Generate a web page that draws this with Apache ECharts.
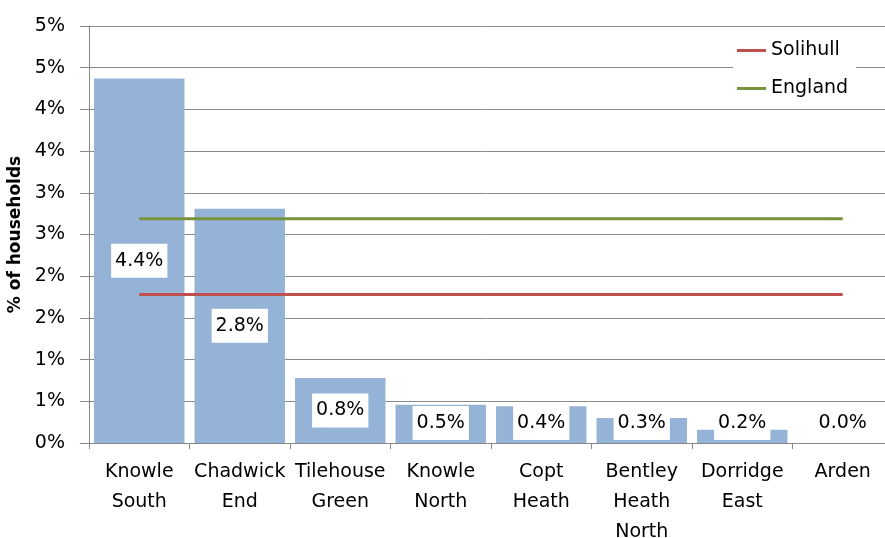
<!DOCTYPE html>
<html>
<head>
<meta charset="utf-8">
<script src="https://cdn.jsdelivr.net/npm/echarts@6/dist/echarts.min.js"></script>
<style>html,body{margin:0;padding:0;background:#fff;}#c{width:885px;height:538px;}</style>
</head>
<body>
<div id="c"></div>
<script>
const categories = ['Knowle\nSouth', 'Chadwick\nEnd', 'Tilehouse\nGreen', 'Knowle\nNorth', 'Copt\nHeath', 'Bentley\nHeath\nNorth', 'Dorridge\nEast', 'Arden'];
const wardValues = [4.37, 2.81, 0.78, 0.46, 0.44, 0.30, 0.16, 0.0];
const solihullValues = [1.78, 1.78, 1.78, 1.78, 1.78, 1.78, 1.78, 1.78];
const englandValues = [2.69, 2.69, 2.69, 2.69, 2.69, 2.69, 2.69, 2.69];
const yTickLabels = ['0%', '1%', '1%', '2%', '2%', '3%', '3%', '4%', '4%', '5%', '5%'];

const FONT = 'DejaVu Sans';
const FS = 19;
const barData = wardValues.map(v => v < 0.6
  ? { value: v, label: { position: 'insideBottom', distance: 3 } }
  : { value: v });

const chart = echarts.init(document.getElementById('c'), null, { renderer: 'canvas' });
chart.setOption({
  animation: false,
  backgroundColor: '#fff',
  textStyle: { fontFamily: FONT },
  grid: { left: 89, right: -8, top: 26, bottom: 95, containLabel: false, outerBoundsMode: 'none' },
  legend: {
    data: ['Solihull', 'England'],
    orient: 'vertical',
    left: 733, top: 35,
    backgroundColor: '#fff',
    padding: [6, 8, 6, 4],
    itemGap: 19,
    icon: 'rect',
    itemWidth: 29, itemHeight: 3,
    textStyle: { fontFamily: FONT, fontSize: FS, color: '#000', lineHeight: 19 }
  },
  xAxis: {
    type: 'category',
    data: categories,
    axisLine: { lineStyle: { color: '#888', width: 1 } },
    axisTick: { show: true, length: 6, lineStyle: { color: '#888' } },
    axisLabel: { color: '#000', fontFamily: FONT, fontSize: FS, lineHeight: 30, margin: 14, interval: 0 },
    splitLine: { show: false }
  },
  yAxis: {
    type: 'value',
    min: 0, max: 5, interval: 0.5,
    name: '% of households',
    nameLocation: 'middle',
    nameGap: 62,
    nameRotate: 90,
    nameTextStyle: { fontFamily: FONT, fontSize: 17, fontWeight: 'bold', color: '#000' },
    axisLine: { show: true, lineStyle: { color: '#888', width: 1 } },
    axisTick: { show: true, length: 9, lineStyle: { color: '#888' } },
    axisLabel: {
      color: '#000', fontFamily: FONT, fontSize: FS, margin: 24,
      formatter: v => yTickLabels[Math.round(v / 0.5)]
    },
    splitLine: { show: true, lineStyle: { color: '#8a8a8a', width: 1 } }
  },
  series: [
    {
      name: 'Ward',
      type: 'bar',
      data: barData,
      barWidth: '90%',
      itemStyle: { color: '#95B3D7' },
      z: 2,
      label: {
        show: true,
        position: 'inside',
        formatter: p => p.value.toFixed(1) + '%',
        color: '#000',
        fontFamily: FONT,
        fontSize: FS,
        lineHeight: 18,
        backgroundColor: '#fff',
        padding: [8, 4]
      }
    },
    {
      name: 'Solihull',
      type: 'line',
      data: solihullValues,
      symbol: 'none',
      lineStyle: { color: '#C0504D', width: 3 },
      itemStyle: { color: '#C0504D' },
      z: 3
    },
    {
      name: 'England',
      type: 'line',
      data: englandValues,
      symbol: 'none',
      lineStyle: { color: '#77933C', width: 3 },
      itemStyle: { color: '#77933C' },
      z: 3
    }
  ]
});
</script>
</body>
</html>
